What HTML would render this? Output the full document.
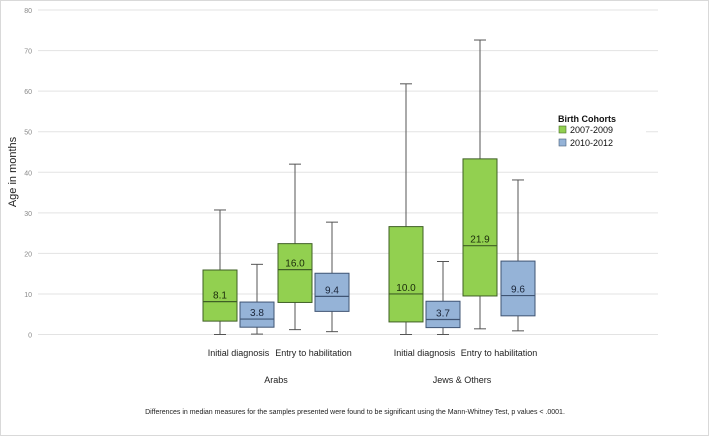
<!DOCTYPE html>
<html><head><meta charset="utf-8"><style>
body{margin:0;background:#fff}
svg{display:block;font-family:"Liberation Sans",sans-serif}
</style></head><body>
<svg width="709" height="436">
<rect x="0.5" y="0.5" width="708" height="435" fill="#fff" stroke="#d9d9d9"/>
<g id="grid"></g>
<g id="yticks"></g>
<text transform="translate(16,172) rotate(-90)" text-anchor="middle" font-size="11" fill="#222">Age in months</text>
<g id="boxes"></g>
<g id="cats"></g>
<g>
<rect x="556" y="110" width="90" height="42" fill="#fff"/>
<text x="558" y="122" font-size="9" font-weight="bold" fill="#111">Birth Cohorts</text>
<rect x="559" y="126" width="7" height="7" fill="#92d050" stroke="#4a6e2a" stroke-width="0.6"/>
<text x="570" y="133" font-size="9" fill="#111">2007-2009</text>
<rect x="559" y="139" width="7" height="7" fill="#95b3d7" stroke="#4a5f7a" stroke-width="0.6"/>
<text x="570" y="146" font-size="9" fill="#111">2010-2012</text>
</g>
<text x="355" y="414" text-anchor="middle" font-size="7" fill="#222">Differences in median measures for the samples presented were found to be significant using the Mann-Whitney Test, p values &lt; .0001.</text>
</svg>
<script>
const yTicks=[0,10,20,30,40,50,60,70,80];
const mins=[0,0.1,1.2,0.7,0,0,1.4,0.9];
const q1s=[3.3,1.8,7.9,5.7,3.1,1.7,9.5,4.6];
const medians=[8.1,3.8,16.0,9.4,10.0,3.7,21.9,9.6];
const q3s=[15.9,8.0,22.4,15.1,26.6,8.2,43.3,18.1];
const maxs=[30.7,17.3,42,27.7,61.8,18,72.6,38.1];
const cohorts=["2007-2009","2010-2012","2007-2009","2010-2012","2007-2009","2010-2012","2007-2009","2010-2012"];
const measures=["Initial diagnosis","Entry to habilitation","Initial diagnosis","Entry to habilitation"];
const groups=["Arabs","Jews & Others"];
const NS="http://www.w3.org/2000/svg";
const y=v=>334.5-v*(324.5/80);
const xs=[220,257,295,332,406,443,480,518];
function mk(t,a,p){const e=document.createElementNS(NS,t);for(const k in a)e.setAttribute(k,a[k]);p.appendChild(e);return e;}
const grid=document.getElementById('grid'),yt=document.getElementById('yticks');
yTicks.forEach(v=>{
 const l=mk('line',{x1:38,x2:658,y1:y(v),y2:y(v),stroke:'#e3e3e3','stroke-width':1},grid);
 
 
 const t=mk('text',{x:32,y:y(v)+3,'text-anchor':'end','font-size':7,fill:'#888'},yt);
 t.textContent=v;
 
 
});
const bx=document.getElementById('boxes');
medians.forEach((m,i)=>{
 const g=mk('g',{},bx);
 
 
 const green=cohorts[i]==="2007-2009";
 const fill=green?'#92d050':'#95b3d7', st=green?'#3f5f25':'#3f5473';
 const x=xs[i],w=17;
 mk('line',{x1:x,x2:x,y1:y(maxs[i]),y2:y(q3s[i]),stroke:'#555'},g);
 mk('line',{x1:x,x2:x,y1:y(q1s[i]),y2:y(mins[i]),stroke:'#555'},g);
 mk('line',{x1:x-6,x2:x+6,y1:y(maxs[i]),y2:y(maxs[i]),stroke:'#555'},g);
 mk('line',{x1:x-6,x2:x+6,y1:y(mins[i]),y2:y(mins[i]),stroke:'#555'},g);
 mk('rect',{x:x-w,y:y(q3s[i]),width:2*w,height:y(q1s[i])-y(q3s[i]),fill:fill,stroke:st,'stroke-width':1},g);
 mk('line',{x1:x-w,x2:x+w,y1:y(m),y2:y(m),stroke:st,'stroke-width':1.2},g);
 const t=mk('text',{x:x,y:y(m)-3,'text-anchor':'middle','font-size':10,fill:green?'#1a2a0a':'#1a2538'},g);
 t.textContent=m.toFixed(1);
 
 
});
const cats=document.getElementById('cats');
measures.forEach((s,i)=>{
 const t=mk('text',{x:(xs[2*i]+xs[2*i+1])/2,y:356,'text-anchor':'middle','font-size':9,fill:'#222'},cats);
 t.textContent=s;
 
 
});
groups.forEach((s,i)=>{
 const t=mk('text',{x:(xs[4*i]+xs[4*i+3])/2,y:383,'text-anchor':'middle','font-size':9,fill:'#222'},cats);
 t.textContent=s;
 
 
});
</script>
</body></html>
